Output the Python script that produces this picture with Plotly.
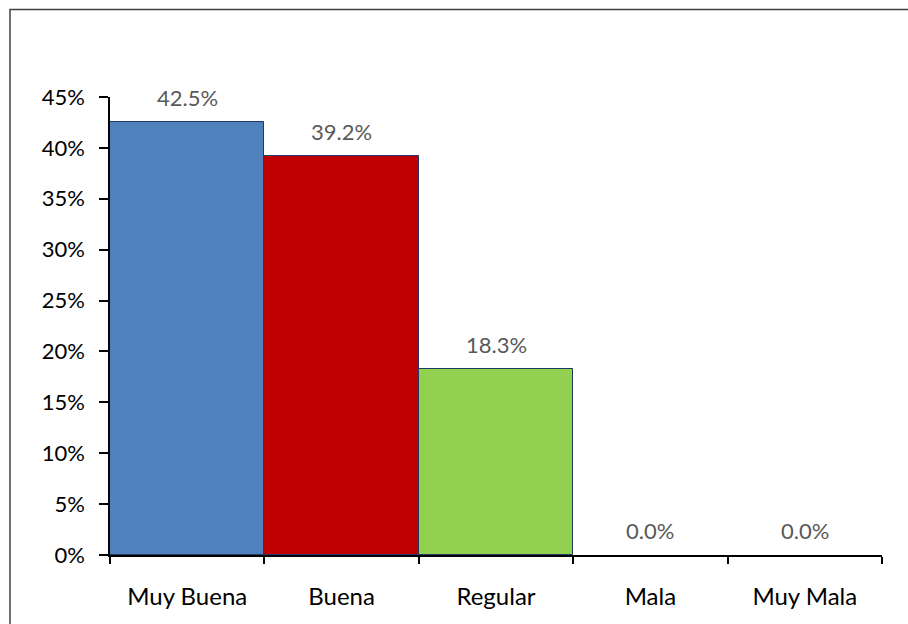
import plotly.graph_objects as go

# Survey rating distribution
categories = ["Muy Buena", "Buena", "Regular", "Mala", "Muy Mala"]
shares = [0.425, 0.392, 0.183, 0.0, 0.0]
bar_colors = ["#4F81BD", "#C00000", "#92D050", "#4F81BD", "#4F81BD"]
y_ticks = [0.0, 0.05, 0.10, 0.15, 0.20, 0.25, 0.30, 0.35, 0.40, 0.45]

W, H = 908, 624
L, R, T, B = 110, 26, 97, 69
FONT = "Lato, Carlito, Calibri, sans-serif"

fig = go.Figure()
fig.add_trace(go.Bar(
    x=categories,
    y=shares,
    marker=dict(
        color=bar_colors,
        line=dict(color="#1F3864", width=[1 if v > 0 else 0 for v in shares]),
    ),
    hoverinfo="x+y",
))

# value labels above each bar
for c, v in zip(categories, shares):
    fig.add_annotation(
        x=c, y=v, text=f"{v:.1%}", showarrow=False,
        yanchor="bottom", yshift=9,
        font=dict(family=FONT, size=22, color="#595959"),
    )

# frame around the whole chart area
pw, ph = W - L - R, H - T - B
fig.add_shape(
    type="rect", xref="paper", yref="paper",
    x0=(10 - L) / pw, x1=1 + (R + 20) / pw,
    y0=-(B + 20) / ph, y1=1 + (T - 9.5) / ph,
    line=dict(color="#404040", width=1.5), layer="below",
)

fig.update_layout(
    width=W, height=H,
    margin=dict(l=L, r=R, t=T, b=B),
    paper_bgcolor="white", plot_bgcolor="white",
    bargap=0, showlegend=False,
    font=dict(family=FONT, size=22, color="black"),
)
fig.update_xaxes(
    showline=True, linecolor="black", linewidth=1.5,
    ticks="outside", tickson="boundaries", ticklen=7, tickcolor="black", tickwidth=1.5,
    ticklabelstandoff=19, showgrid=False,
    tickfont=dict(family=FONT, size=24, color="black"),
)
fig.update_yaxes(
    range=[0, 0.45], tickvals=y_ticks, tickformat=".0%",
    showline=True, linecolor="black", linewidth=1.5,
    ticks="outside", ticklen=9, tickcolor="black", tickwidth=1.5,
    ticklabelstandoff=10, showgrid=False, zeroline=False,
    tickfont=dict(family=FONT, size=22, color="black"),
)

fig.write_html("out.html")
